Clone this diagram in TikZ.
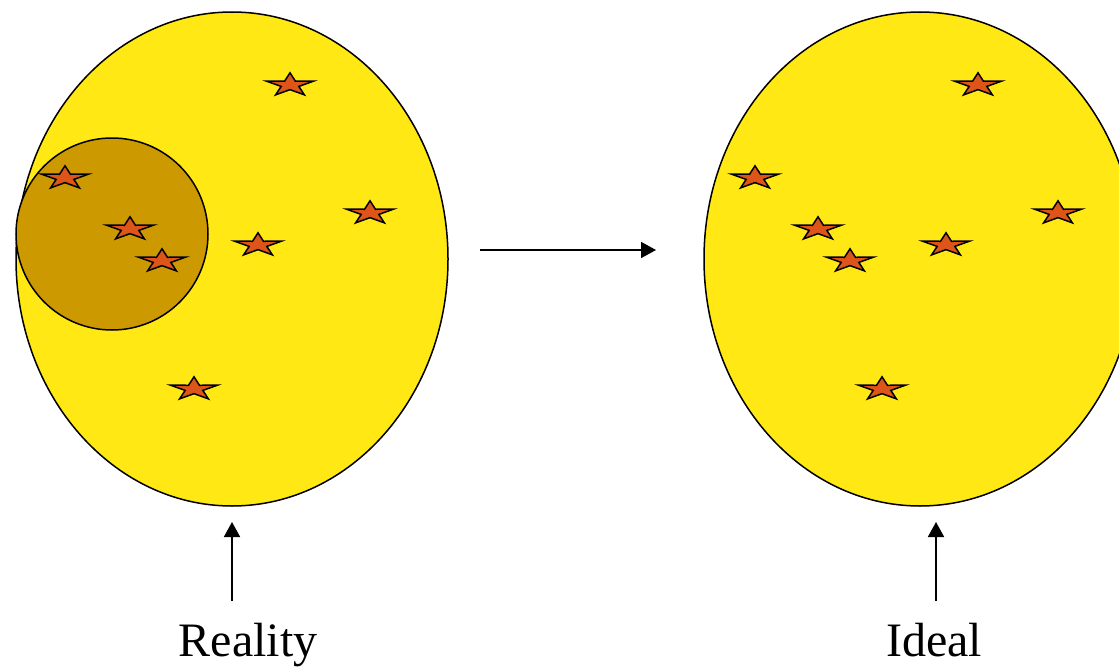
\documentclass[tikz,border=0pt]{standalone}
\usepackage{fontspec}
\setmainfont{Liberation Serif}
\usetikzlibrary{arrows.meta,shapes.geometric}
\definecolor{setyellow}{RGB}{255,232,20}
\definecolor{subgold}{RGB}{204,153,0}
\definecolor{starred}{RGB}{221,85,25}
\tikzset{
  setshape/.style={draw=black, line width=1.5pt, fill=setyellow},
  subshape/.style={draw=black, line width=1.5pt, fill=subgold},
  conn/.style={draw=black, line width=1.8pt, -{Triangle[length=15pt,width=16pt]}},
  lbl/.style={font=\fontsize{48}{52}\selectfont, anchor=base, inner sep=0pt},
  pics/flatstar/.style={code={
    \draw[fill=starred, draw=black, line width=1.5pt, line join=miter, xscale=24.5, yscale=-12.2]
      (90:1) -- (126:0.38) -- (162:1) -- (198:0.38) -- (234:1) -- (270:0.38)
      -- (306:1) -- (342:0.38) -- (18:1) -- (54:0.38) -- cycle;
  }}
}
\begin{document}
\begin{tikzpicture}[x=1pt,y=-1pt]
\useasboundingbox (0,0) rectangle (1119,669);
\clip (0,0) rectangle (1119,669);
% left set (Reality)
\node[setshape, ellipse, minimum width=432pt, minimum height=494pt, inner sep=0pt] (real) at (232,259) {};
\node[subshape, circle, minimum size=192pt, inner sep=0pt] (sub) at (112,234) {};
% right set (Ideal)
\node[setshape, ellipse, minimum width=432pt, minimum height=494pt, inner sep=0pt] (ideal) at (920,259) {};
% stars left
\foreach \p in {(290,85),(65,178),(130,229),(370,213),(258,245),(162,261),(194,389)}
  \pic at \p {flatstar};
% stars right
\foreach \p in {(978,85),(755,178),(818,229),(1058,213),(946,245),(850,261),(882,389)}
  \pic at \p {flatstar};
% arrows
\coordinate (hstart) at (480,250);
\coordinate (hend) at (656,250);
\draw[conn] (hstart) -- (hend);
\node[lbl] (lreal) at (248,656) {Reality};
\node[lbl] (lideal) at (934,656) {Ideal};
\coordinate (a1s) at (232,601);
\coordinate (a1e) at (232,522);
\coordinate (a2s) at (936,601);
\coordinate (a2e) at (936,522);
\draw[conn] (a1s) -- (a1e);
\draw[conn] (a2s) -- (a2e);
\end{tikzpicture}
\end{document}
